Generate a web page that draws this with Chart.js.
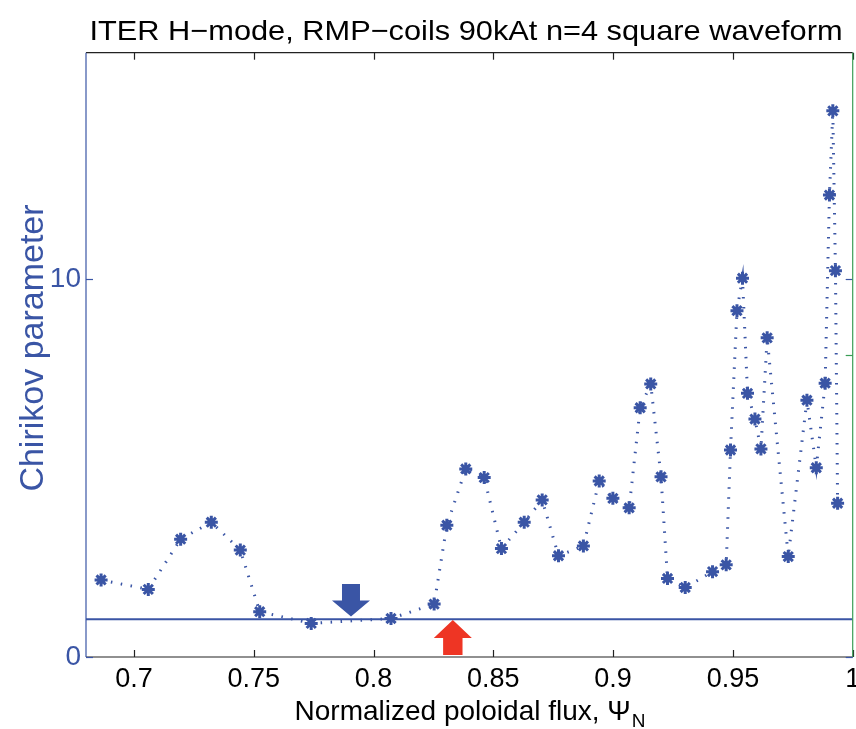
<!DOCTYPE html>
<html><head><meta charset="utf-8">
<script src="https://cdn.jsdelivr.net/npm/chart.js@4.4.0/dist/chart.umd.min.js"></script>
<style>html,body{margin:0;padding:0;background:#fff}#wrap{width:856px;height:729px;position:relative}</style>
</head><body><div id="wrap"><canvas id="c"></canvas></div>
<script>
// ---- data ----
const psiN = [0.6863,0.7060,0.7195,0.7323,0.7444,0.7525,0.7740,0.8073,0.8253,0.8306,0.8385,0.8462,0.8534,0.8629,0.8704,0.8772,0.8876,0.8942,0.8999,0.9067,0.9113,0.9157,0.9200,0.9227,0.9301,0.9415,0.9472,0.9490,0.9517,0.9540,0.9561,0.9592,0.9617,0.9643,0.9731,0.9809,0.9848,0.9885,0.9903,0.9917,0.9928,0.9937];
const chirikov = [2.04,1.79,3.12,3.57,2.83,1.20,0.89,1.02,1.40,3.49,4.98,4.75,2.87,3.57,4.16,2.68,2.94,4.66,4.20,3.95,6.60,7.23,4.77,2.08,1.84,2.26,2.44,5.48,9.17,10.03,6.98,6.30,5.51,8.45,2.66,6.80,5.01,7.25,12.23,14.46,10.23,4.07];
const thresholdX = [0.68, 1.0];
const thresholdY = [1, 1];
const xTicks = [0.7,0.75,0.8,0.85,0.9,0.95,1];
const xTickLabels = ['0.7','0.75','0.8','0.85','0.9','0.95','1'];
const yTicks = [0,10];
const yTickLabels = ['0','10'];
const rightTicks = [8];
const arrowX = [0.7906, 0.8331];
const arrowTipY = [1.07, 0.98];
const arrowDir = ['down','up'];
const titleText = 'ITER H\u2212mode, RMP\u2212coils 90kAt n=4 square waveform';
const yTitle = 'Chirikov parameter';
const xTitle = 'Normalized poloidal flux, \u03A8';
const xTitleSub = 'N';

const BLUE = '#3a55a5', RED = '#ee3524', GREEN = '#3a9d55', BLACK = '#222';
const FONT = '"Liberation Sans", Arial, Helvetica, sans-serif';

function drawFit(ctx, text, x, y, size, width, align) {
  ctx.save();
  ctx.font = size + 'px ' + FONT;
  const w = ctx.measureText(text).width;
  const sx = width ? width / w : 1;
  ctx.translate(x, y);
  ctx.scale(sx, 1);
  ctx.textAlign = align || 'center';
  ctx.fillText(text, 0, 0);
  ctx.restore();
}

const decor = {
  id: 'decor',
  afterDatasetsDraw(chart) {
    const {ctx, chartArea: a, scales: {x, y}} = chart;
    arrowX.forEach((ax, i) => {
      const px = x.getPixelForValue(ax), py = y.getPixelForValue(arrowTipY[i]);
      const d = arrowDir[i] === 'down' ? -1 : 1;
      const headH = d < 0 ? 16 : 18, headW = 19, bodyW = d < 0 ? 9 : 9.7, bodyH = d < 0 ? 16.5 : 17;
      ctx.save();
      ctx.fillStyle = d < 0 ? BLUE : RED;
      ctx.beginPath();
      ctx.moveTo(px, py);
      ctx.lineTo(px + headW, py + d * headH);
      ctx.lineTo(px + bodyW, py + d * headH);
      ctx.lineTo(px + bodyW, py + d * (headH + bodyH));
      ctx.lineTo(px - bodyW, py + d * (headH + bodyH));
      ctx.lineTo(px - bodyW, py + d * headH);
      ctx.lineTo(px - headW, py + d * headH);
      ctx.closePath();
      ctx.fill();
      ctx.restore();
    });
    ctx.save();
    ctx.lineWidth = 1.2;
    const tl = 7;
    ctx.strokeStyle = BLACK;
    ctx.beginPath(); ctx.moveTo(a.left, a.bottom); ctx.lineTo(a.right, a.bottom); ctx.stroke();
    ctx.beginPath(); ctx.moveTo(a.left, a.top); ctx.lineTo(a.right, a.top); ctx.stroke();
    xTicks.forEach(v => {
      const px = Math.round(x.getPixelForValue(v)) + 0.5;
      ctx.beginPath(); ctx.moveTo(px, a.bottom); ctx.lineTo(px, a.bottom - tl); ctx.stroke();
      ctx.beginPath(); ctx.moveTo(px, a.top); ctx.lineTo(px, a.top + tl); ctx.stroke();
    });
    ctx.strokeStyle = BLUE;
    ctx.beginPath(); ctx.moveTo(a.left, a.top); ctx.lineTo(a.left, a.bottom); ctx.stroke();
    yTicks.forEach(v => {
      const py = Math.round(y.getPixelForValue(v)) + 0.5;
      ctx.beginPath(); ctx.moveTo(a.left, py); ctx.lineTo(a.left + tl, py); ctx.stroke();
      ctx.beginPath(); ctx.moveTo(a.right, py); ctx.lineTo(a.right - tl, py); ctx.stroke();
    });
    ctx.strokeStyle = GREEN;
    ctx.beginPath(); ctx.moveTo(a.right, a.top); ctx.lineTo(a.right, a.bottom); ctx.stroke();
    rightTicks.forEach(v => {
      const py = Math.round(y.getPixelForValue(v)) + 0.5;
      ctx.beginPath(); ctx.moveTo(a.right, py); ctx.lineTo(a.right - tl, py); ctx.stroke();
    });
    ctx.restore();
  },
  afterDraw(chart) {
    const {ctx} = chart;
    ctx.save();
    ctx.fillStyle = '#000';
    ctx.textBaseline = 'alphabetic';
    drawFit(ctx, titleText, 466, 40, 28, 753);
    // x title with subscript
    const big = 28, small = 19;
    ctx.font = big + 'px ' + FONT;
    const w1 = ctx.measureText(xTitle).width;
    ctx.font = small + 'px ' + FONT;
    const w2 = ctx.measureText(xTitleSub).width;
    const startX = 470 - (w1 + w2 + 1) / 2;
    ctx.textAlign = 'left';
    ctx.font = big + 'px ' + FONT;
    ctx.fillText(xTitle, startX, 720);
    ctx.font = small + 'px ' + FONT;
    ctx.fillText(xTitleSub, startX + w1 + 1, 727);
    // y title
    ctx.fillStyle = BLUE;
    ctx.translate(34, 348);
    ctx.rotate(-Math.PI / 2);
    ctx.textBaseline = 'middle';
    ctx.font = '34px ' + FONT;
    ctx.textAlign = 'center';
    ctx.fillText(yTitle, 0, 0);
    ctx.restore();
  }
};

new Chart(document.getElementById('c'), {
  type: 'line',
  data: {
    datasets: [
      {
        label: 'Chirikov parameter',
        data: psiN.map((v, i) => ({x: v, y: chirikov[i]})),
        borderColor: BLUE,
        borderWidth: 3,
        borderDash: [1.5, 8.5],
        borderCapStyle: 'butt',
        tension: 0,
        pointStyle: 'star',
        pointRadius: 6.5,
        pointBorderWidth: 3,
        pointBorderColor: BLUE,
        pointBackgroundColor: BLUE,
        fill: false
      },
      {
        label: 'threshold',
        data: thresholdX.map((v, i) => ({x: v, y: thresholdY[i]})),
        borderColor: BLUE,
        borderWidth: 2,
        pointRadius: 0,
        tension: 0,
        fill: false
      }
    ]
  },
  options: {
    responsive: true,
    maintainAspectRatio: false,
    animation: false,
    layout: {autoPadding: false, padding: {top: 52.7, right: 3.3, left: 0, bottom: 0}},
    plugins: {legend: {display: false}, title: {display: false}, tooltip: {enabled: false}},
    scales: {
      x: {
        type: 'linear', min: 0.68, max: 1.0,
        grid: {display: false, drawTicks: false},
        border: {display: false},
        afterBuildTicks(s) { s.ticks = xTicks.map(v => ({value: v})); },
        afterFit(s) { s.height = 72; s.paddingLeft = 0; s.paddingRight = 0; },
        ticks: {
          padding: 6, color: '#000', maxRotation: 0, autoSkip: false,
          font: {family: FONT, size: 27},
          callback(v, i) { return xTickLabels[i]; }
        }
      },
      y: {
        type: 'linear', min: 0, max: 16,
        grid: {display: false, drawTicks: false},
        border: {display: false},
        afterBuildTicks(s) { s.ticks = yTicks.map(v => ({value: v})); },
        afterFit(s) { s.width = 86; s.paddingTop = 0; s.paddingBottom = 0; },
        ticks: {
          padding: 5, color: BLUE, autoSkip: false,
          font: {family: FONT, size: 28},
          callback(v, i) { return yTickLabels[i]; }
        }
      }
    }
  },
  plugins: [decor]
});
</script>
</body></html>
